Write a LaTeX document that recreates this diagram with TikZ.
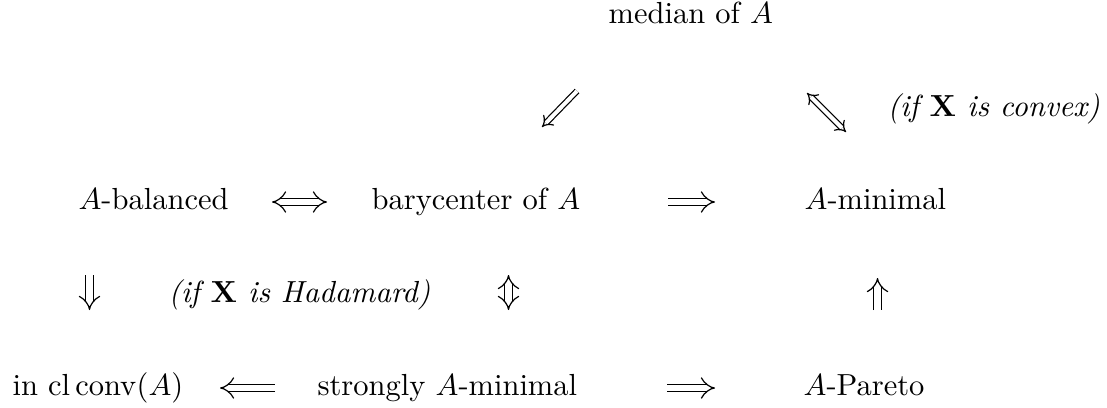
\documentclass[tikz,border=0pt]{standalone}
\usetikzlibrary{arrows.meta}
\begin{document}
\begin{tikzpicture}[x=0.3279pt,y=-0.3279pt,
  lbl/.style={anchor=base west,inner sep=0pt,font=\normalsize},
  imp/.style={double,double distance=2.1pt,line width=0.4pt},
  dimp/.style={double,double distance=1.3pt,line width=0.4pt}]
\useasboundingbox (0,0) rectangle (1107,408);
% texts
\node[lbl] (med) at (608,24) {median of $A$};
\node[lbl] (cvx) at (887,117) {\textit{(if $\mathbf{X}$ is convex)}};
\node[lbl] (bal) at (78,210) {$A$-balanced};
\node[lbl] (bary) at (371,210) {barycenter of $A$};
\node[lbl] (amin) at (804,210) {$A$-minimal};
\node[lbl] (had) at (168,302) {\textit{(if $\mathbf{X}$ is Hadamard)}};
\node[lbl] (ccv) at (12,395) {in $\mathrm{cl}\,\mathrm{conv}(A)$};
\node[lbl] (strong) at (317,395) {strongly $A$-minimal};
\node[lbl] (par) at (803,395) {$A$-Pareto};
% arrow end points
\coordinate (d1a) at (577,91);  \coordinate (d1b) at (542,127);
\coordinate (d2a) at (807,93);  \coordinate (d2b) at (846,132);
\coordinate (h1a) at (272,202); \coordinate (h1b) at (327,202);
\coordinate (h2a) at (668,202); \coordinate (h2b) at (715,202);
\coordinate (h3a) at (275,388); \coordinate (h3b) at (220,388);
\coordinate (h4a) at (667,388); \coordinate (h4b) at (715,388);
\coordinate (v1a) at (89.5,275); \coordinate (v1b) at (89.5,310);
\coordinate (v2a) at (508.5,275); \coordinate (v2b) at (508.5,310);
\coordinate (v3a) at (877.5,310); \coordinate (v3b) at (877.5,278);
% arrows
\draw[dimp,-Implies] (d1a) -- (d1b);
\draw[dimp,Implies-Implies] (d2a) -- (d2b);
\draw[imp,Implies-Implies] (h1a) -- (h1b);
\draw[imp,-Implies] (h2a) -- (h2b);
\draw[imp,-Implies] (h3a) -- (h3b);
\draw[imp,-Implies] (h4a) -- (h4b);
\draw[imp,-Implies] (v1a) -- (v1b);
\draw[imp,Implies-Implies] (v2a) -- (v2b);
\draw[imp,-Implies] (v3a) -- (v3b);
\end{tikzpicture}
\end{document}
